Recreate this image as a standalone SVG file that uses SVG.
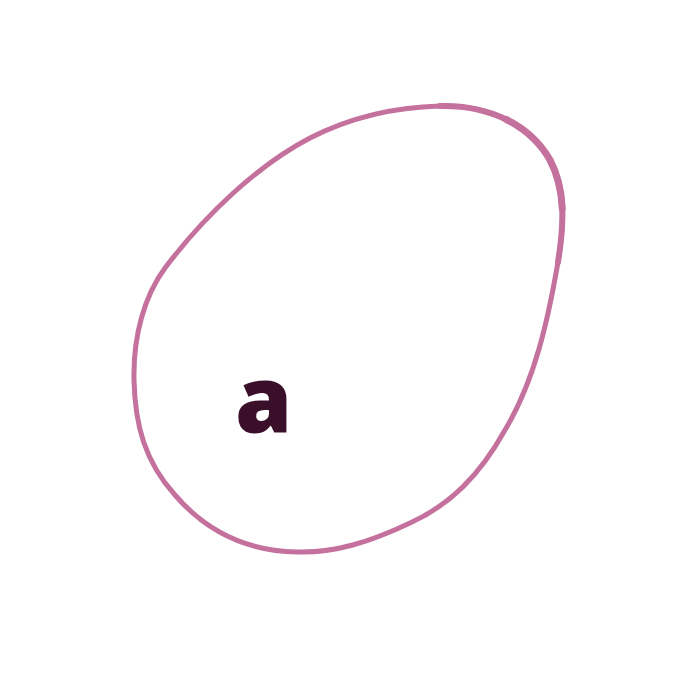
<svg xmlns="http://www.w3.org/2000/svg" width="680" height="673" viewBox="0 0 680 673">
<style>
.blob{fill:none;stroke:#c4719e;stroke-linecap:round;stroke-linejoin:round}
.lbl{font-family:"Open Sans","Noto Sans",sans-serif;font-weight:800;fill:#3a0f2a}
</style>
<rect width="680" height="673" fill="#ffffff"/>
<g id="set-a">
<path class="blob" stroke-width="5" d="M165,268 C205,215 258,165 310,138 C355,115 400,107 440,106 C490,105 530,125 550,160 C566,190 564,225 558,262 C548,320 535,380 505,430 C480,475 450,505 410,523 C370,542 335,553 297,552 C245,551 205,530 175,495 C145,462 135,425 134,380 C133,335 145,295 165,268 Z"/>
<path class="blob" stroke-width="6" d="M440,106 C490,105 530,125 550,160 C566,190 564,225 558,262"/>
<path class="blob" stroke-width="7" d="M506.25,119.5 C525,128.75 540,142.5 550,160 C558,175 561.5,191.25 562.25,208.375"/>
<text class="lbl" x="235" y="433" font-size="92">a</text>
</g>
</svg>
